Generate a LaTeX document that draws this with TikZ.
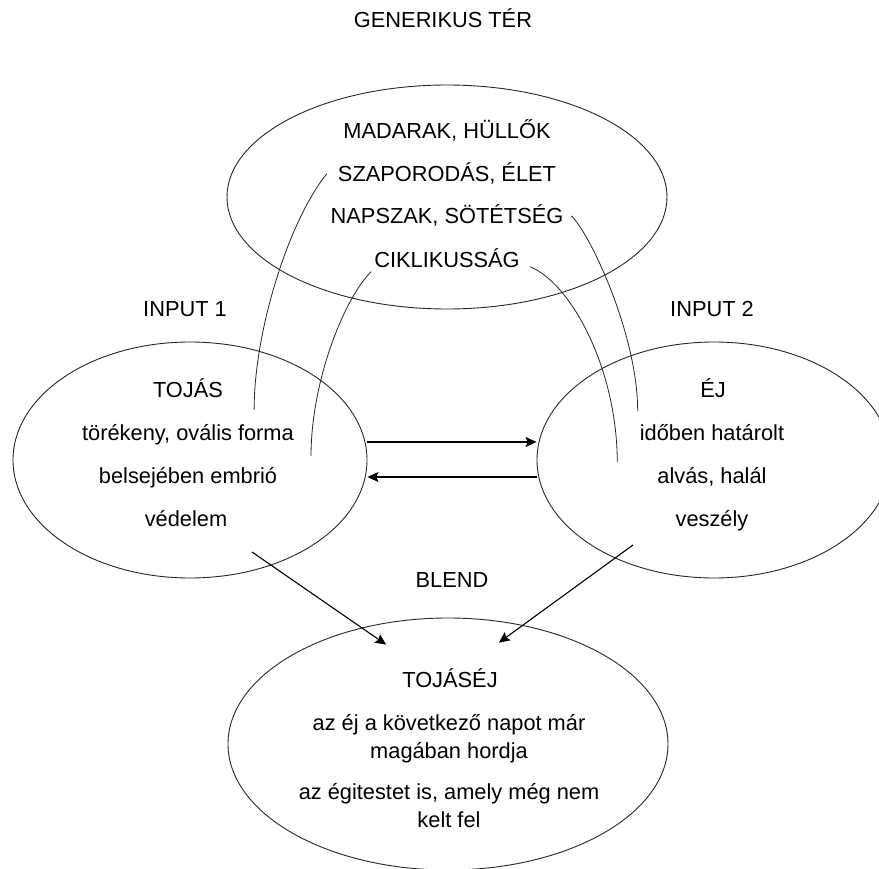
\documentclass[tikz,border=0pt]{standalone}
\usepackage{fontspec}
\setmainfont{Liberation Sans}
\usetikzlibrary{shapes.geometric,arrows.meta}

\begin{document}
\begin{tikzpicture}[x=1pt,y=-1pt,
  sp/.style={ellipse,draw=black!85,line width=0.9pt,inner sep=0pt},
  t/.style={font=\fontsize{21.8pt}{28pt}\selectfont,inner sep=0pt,anchor=base,align=center},
  link/.style={draw=black!85,line width=0.8pt},
  arr/.style={draw=black,line width=1.1pt,-{Stealth[length=11pt,width=10pt,inset=2pt]}}]
  \useasboundingbox (0,0) rectangle (879,869);
  % the four spaces
  \node[sp,minimum width=440pt,minimum height=224pt] (gen) at (447,197) {};
  \node[sp,minimum width=354pt,minimum height=236pt] (inp1) at (190,460) {};
  \node[sp,minimum width=354pt,minimum height=236pt] (inp2) at (714,460) {};
  \node[sp,minimum width=440pt,minimum height=252pt] (blend) at (448,744) {};
  % titles
  \node[t] (tgen) at (443,28) {GENERIKUS TÉR};
  \node[t] (tinp1) at (185,317) {INPUT 1};
  \node[t] (tinp2) at (712,317) {INPUT 2};
  \node[t] (tblend) at (452,587) {BLEND};
  % generic space
  \node[t] (madar) at (447,139) {MADARAK, HÜLLŐK};
  \node[t] (szap) at (447,182) {SZAPORODÁS, ÉLET};
  \node[t] (napsz) at (447,224) {NAPSZAK, SÖTÉTSÉG};
  \node[t] (cikl) at (447,268) {CIKLIKUSSÁG};
  % input 1
  \node[t] (tojas) at (188,397) {TOJÁS};
  \node[t] (torek) at (188,440) {törékeny, ovális forma};
  \node[t] (belse) at (188,483) {belsejében embrió};
  \node[t] (vedel) at (186,526) {védelem};
  % input 2
  \node[t] (ej) at (713,397) {ÉJ};
  \node[t] (idoben) at (712,440) {időben határolt};
  \node[t] (alvas) at (712,483) {alvás, halál};
  \node[t] (veszely) at (712,526) {veszély};
  % blend (base = last line)
  \node[t] (tojasej) at (450,687) {TOJÁSÉJ};
  \node[t] (hordja) at (449,758) {az éj a következő napot már\\magában hordja};
  \node[t] (egitest) at (449,827) {az égitestet is, amely még nem\\kelt fel};
  % cross-space links
  \draw[link] ([xshift=-11pt]szap.west) .. controls +(-37,45) and +(0,-80) .. ([shift={(31pt,-22pt)}]tojas.east);
  \draw[link] ([shift={(-3pt,-13pt)}]cikl.west) .. controls +(-27,27) and +(0,-75) .. ([shift={(17pt,-22pt)}]torek.east);
  \draw[link] ([xshift=8pt]napsz.east) .. controls +(20,20) and +(0,-75) .. ([shift={(-2pt,21pt)}]idoben.west);
  \draw[link] ([shift={(10pt,-8pt)}]cikl.east) .. controls +(42,17) and +(0,-92) .. ([shift={(-40pt,14pt)}]alvas.west);
  % mappings between inputs
  \draw[arr] ([yshift=18pt]inp1.east) -- ([yshift=18pt]inp2.west);
  \draw[arr] ([yshift=-17pt]inp2.west) -- ([yshift=-17pt]inp1.east);
  % projections to the blend
  \coordinate (p1) at (252,552);
  \coordinate (p2) at (633,545);
  \draw[arr] (p1) -- ([shift={(-16pt,33pt)}]tojasej.west);
  \draw[arr] (p2) -- ([shift={(1pt,35pt)}]tojasej.east);
\end{tikzpicture}
\end{document}
